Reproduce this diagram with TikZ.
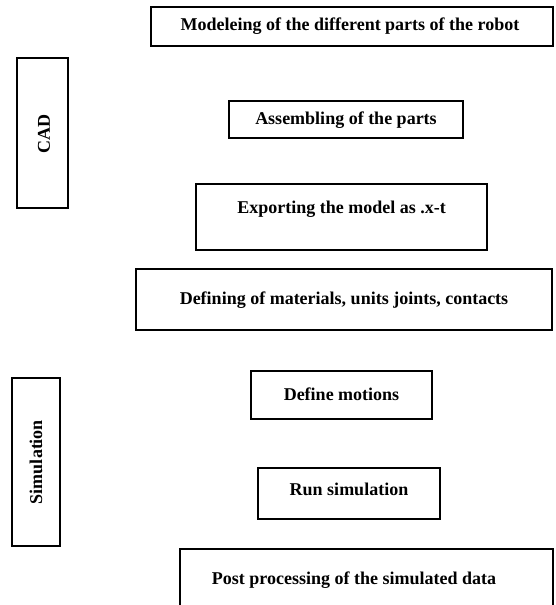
\documentclass[tikz,border=0pt]{standalone}
\usepackage{fontspec}
\setmainfont{Liberation Serif}
\begin{document}
\begin{tikzpicture}[x=1pt,y=-1pt,
  box/.style={draw=black,line width=2pt,fill=white},
  lbl/.style={font=\fontsize{18}{20}\selectfont\bfseries,text=black,inner sep=0pt},
  vlbl/.style={font=\fontsize{18}{20}\selectfont\bfseries,text=black,inner sep=0pt,rotate=90}]
\useasboundingbox (0,0) rectangle (555,605);
\clip (0,0) rectangle (555,605);
% CAD group
\draw[box] (17,58) rectangle (68,208);
\node[vlbl] (cad) at (44,134) {CAD};
% Simulation group
\draw[box] (12,378) rectangle (60,546);
\node[vlbl] (sim) at (36,462) {Simulation};
% steps
\draw[box] (151,7) rectangle (553,46);
\node[lbl] (n1) at (350,26.5) {Modeleing of the different parts of the robot};
\draw[box] (229,101) rectangle (463,138);
\node[lbl] (n2) at (346,120) {Assembling of the parts};
\draw[box] (196,184) rectangle (487,250);
\node[lbl] (n3) at (341.5,209) {Exporting the model as .x-t};
\draw[box] (136,269) rectangle (552,330);
\node[lbl] (n4) at (344,300) {Defining of materials, units joints, contacts};
\draw[box] (251,371) rectangle (432,419);
\node[lbl] (n5) at (341.5,394) {Define motions};
\draw[box] (258,468) rectangle (440,519);
\node[lbl] (n6) at (349,489) {Run simulation};
\draw[box] (180,549) rectangle (553,630);
\node[lbl] (n7) at (354,580) {Post processing of the simulated data};
\end{tikzpicture}
\end{document}
